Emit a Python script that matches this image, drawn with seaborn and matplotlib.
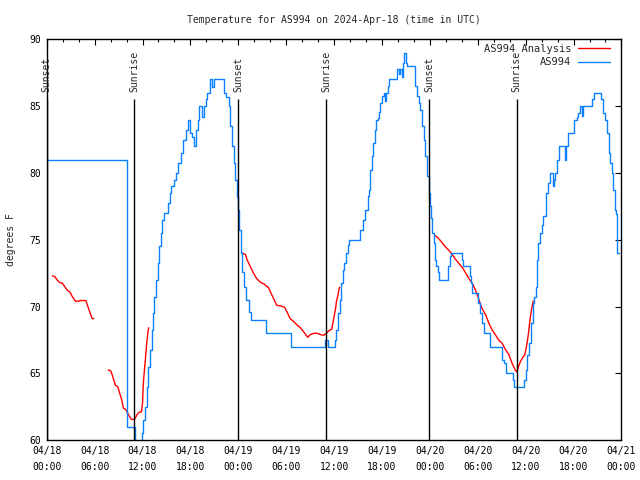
#!/usr/bin/python3
import pandas as pd
import numpy as np
import seaborn as sns
import matplotlib
matplotlib.use("Agg")
import matplotlib.pyplot as plt
import matplotlib.dates as mdates
from matplotlib.lines import Line2D

# hours after 2024-04-18 00:00 UTC, temperatures in degrees F
obs_hours = [0.0, 10.1, 11.05, 11.9, 12.1, 12.35, 12.55, 12.75, 12.98, 13.2, 13.3, 13.5, 13.7, 13.9,
             14.1, 14.3, 14.5, 14.7, 15.2, 15.4, 15.6, 15.9, 16.2, 16.4, 16.8, 17.1, 17.4, 17.7,
             17.9, 18.2, 18.5, 18.7, 18.9, 19.1, 19.5, 19.7, 19.9, 20.1, 20.4, 20.5, 20.7, 20.9,
             22.2, 22.5, 22.8, 23.0, 23.25, 23.45, 23.6, 23.9, 24.0, 24.1, 24.3, 24.5, 24.7, 25.0,
             25.3, 25.6, 27.5, 30.6, 34.85, 35.3, 36.1, 36.3, 36.5, 36.7, 36.9, 37.1, 37.3, 37.5,
             37.7, 37.9, 39.2, 39.6, 39.9, 40.2, 40.4, 40.5, 40.8, 40.9, 41.1, 41.3, 41.5, 41.6,
             41.8, 42.0, 42.2, 42.4, 42.5, 42.7, 42.9, 43.9, 44.1, 44.3, 44.5, 44.6, 44.7, 44.95,
             45.1, 46.2, 46.4, 46.6, 46.8, 47.0, 47.25, 47.45, 47.7, 47.9, 48.0, 48.1, 48.3, 48.5,
             48.6, 48.8, 49.0, 49.2, 50.3, 50.5, 50.7, 52.0, 52.1, 53.0, 53.1, 53.3, 54.0, 54.3,
             54.5, 54.8, 55.5, 57.0, 57.3, 57.5, 58.4, 58.5, 59.85, 60.0, 60.2, 60.4, 60.7, 60.9,
             61.1, 61.3, 61.4, 61.6, 61.8, 62.0, 62.2, 62.5, 62.6, 62.8, 63.0, 63.4, 63.6, 63.7,
             63.9, 64.2, 64.9, 65.0, 65.3, 66.1, 66.4, 66.6, 66.8, 67.0, 67.2, 68.3, 68.6, 69.5,
             69.7, 70.0, 70.2, 70.4, 70.6, 70.8, 71.0, 71.2, 71.3, 71.45, 71.5, 71.65]
obs_temp = [81, 61, 59, 60.5, 61.5, 62.5, 64, 65.5, 66.75, 68.25, 69.5, 70.75, 72, 73.25,
            74.5, 75.5, 76.5, 77, 77.75, 78.5, 79, 79.5, 80, 80.75, 81.5, 82.5, 83.25, 84,
            83, 82.7, 82, 83.2, 84, 85, 84.2, 85, 85.5, 86, 86.5, 87, 86.4, 87,
            86, 85.7, 85, 83.5, 82, 80.75, 79.5, 78.2, 77.2, 75.75, 74, 72.6, 71.5, 70.5,
            69.6, 69, 68, 67, 67.5, 67, 67.5, 68.25, 69.5, 70.5, 71.75, 72.75, 73.25, 74,
            74.6, 75, 75.75, 76.5, 77.25, 78.25, 78.75, 80.25, 81.25, 82.25, 83.25, 84, 84.15, 84.6,
            85.25, 85.75, 86, 85.4, 86, 86.5, 87, 87.75, 87.4, 87.75, 87.15, 88.25, 89, 88.25,
            88, 86.5, 85.75, 85.25, 84.75, 83.5, 82.5, 81.25, 79.75, 78.5, 77.5, 76.6, 75.5, 74.75,
            73.5, 73, 72.6, 72, 73, 73.75, 74, 73.5, 73, 72.25, 71.75, 71, 70.25, 69.5,
            68.75, 68, 67, 66, 65.75, 65, 64.5, 64, 64.5, 65.25, 66.4, 67.25, 68.75, 70.25,
            70.75, 71.5, 73.5, 74.75, 75.5, 76.1, 76.75, 77.6, 78.5, 79.25, 80, 79, 79.5, 80,
            81, 82, 81, 82, 83, 84, 84.2, 84.5, 85, 84.25, 85, 85.5, 86, 85.5,
            84.5, 84, 83, 81.5, 80.75, 80, 78.75, 77.25, 76.9, 75.5, 74, 74]

ana1_hours = [0.7, 1.0, 1.3, 1.6, 1.96, 2.25, 2.6, 2.9, 3.2, 3.6, 4.0, 4.25, 4.9, 5.1, 5.3, 5.5, 5.7, 5.9]
ana1_temp = [72.3, 72.25, 72.0, 71.8, 71.75, 71.5, 71.2, 71.1, 70.75, 70.4, 70.4, 70.45, 70.45, 70.1,
             69.75, 69.4, 69.1, 69.1]
ana2_hours = [7.7, 8.0, 8.2, 8.4, 8.6, 8.9, 9.1, 9.4, 9.6, 9.9, 10.25, 10.6, 11.0, 11.3, 11.6, 11.85,
              12.0, 12.1, 12.35, 12.55, 12.75, 12.8]
ana2_temp = [65.25, 65.2, 64.9, 64.5, 64.1, 64.0, 63.6, 63.0, 62.4, 62.3, 61.9, 61.55, 61.55, 61.9,
             62.1, 62.1, 62.75, 64.25, 66.0, 67.4, 68.4, 68.4]
ana3_hours = [24.5, 24.9, 25.1, 25.5, 25.9, 26.3, 26.8, 27.2, 27.8, 28.1, 28.5, 28.8, 29.3, 29.8, 30.1,
              30.5, 30.9, 31.4, 31.8, 32.2, 32.7, 33.0, 33.5, 33.9, 34.3, 34.7, 35.05, 35.35, 35.7,
              35.85, 36.0, 36.2, 36.3, 36.5, 36.65, 36.7]
ana3_temp = [74, 73.9, 73.5, 73, 72.5, 72.1, 71.8, 71.7, 71.4, 71, 70.5, 70.1, 70.05, 69.95, 69.6,
             69.1, 68.9, 68.6, 68.4, 68.1, 67.7, 67.9, 68, 68, 67.9, 67.85, 68, 68.2, 68.3,
             68.75, 69.25, 69.9, 70.4, 70.9, 71.4, 71.45]
ana4_hours = [48.7, 49.1, 49.5, 49.9, 50.4, 50.8, 51.2, 51.6, 52.1, 52.5, 52.9, 53.3, 53.7, 54.1, 54.5,
              54.97, 55.4, 55.8, 56.2, 56.6, 57.05, 57.5, 57.9, 58.3, 58.7, 58.9, 59.1, 59.35, 59.7,
              59.9, 60.1, 60.3, 60.45, 60.6, 60.8, 60.95]
ana4_temp = [75.3, 75.1, 74.8, 74.5, 74.2, 73.9, 73.55, 73.25, 72.9, 72.5, 72.1, 71.75, 71.25, 70.6,
             69.9, 69.4, 68.75, 68.25, 67.9, 67.5, 67.25, 66.75, 66.4, 65.75, 65.25, 65.1, 65.5,
             65.9, 66.25, 66.4, 67, 67.75, 68.5, 69.25, 70, 70.4]

sunset_hours = [0.0, 24.0, 47.9]
sunrise_hours = [10.97, 35.0, 58.9]

base = pd.Timestamp("2024-04-18 00:00")

def to_time(hours):
    return base + pd.to_timedelta(np.array(hours), unit="h")

obs = pd.DataFrame({"time": to_time(obs_hours), "temp": obs_temp})
segs = []
for i, (h, t) in enumerate([(ana1_hours, ana1_temp), (ana2_hours, ana2_temp),
                            (ana3_hours, ana3_temp), (ana4_hours, ana4_temp)]):
    segs.append(pd.DataFrame({"time": to_time(h), "temp": t, "seg": i}))
ana = pd.concat(segs, ignore_index=True)

sns.set_theme(style="white")
plt.rcParams["font.family"] = ["DejaVu Sans Mono", "DejaVu Sans"]
plt.rcParams["font.size"] = 7

red = "#ff0000"
blue = "#0a80ff"

fig = plt.figure(figsize=(6.4, 4.8), dpi=100)
ax = fig.add_axes([0.073, 0.083, 0.898, 0.835])

sns.lineplot(data=ana, x="time", y="temp", units="seg", estimator=None,
             color=red, linewidth=1.0, ax=ax, legend=False)
sns.lineplot(data=obs, x="time", y="temp", estimator=None, drawstyle="steps-post",
             color=blue, linewidth=1.0, ax=ax, legend=False)

for h in sunset_hours + sunrise_hours:
    ax.vlines(to_time([h])[0], 60, 85.5, color="black", linewidth=1.0, zorder=3)
for h in sunset_hours:
    ax.text(to_time([h])[0], 86.05, "Sunset", rotation=90, ha="center", va="bottom",
            fontsize=7, zorder=4)
for h in sunrise_hours:
    ax.text(to_time([h])[0], 86.05, "Sunrise", rotation=90, ha="center", va="bottom",
            fontsize=7, zorder=4)

ax.set_xlim(base, base + pd.Timedelta(hours=72))
ax.set_ylim(60, 90)
ax.set_yticks(range(60, 91, 5))
ax.xaxis.set_major_locator(mdates.HourLocator(byhour=[0, 6, 12, 18]))
ax.xaxis.set_minor_locator(mdates.HourLocator(interval=2))
ax.xaxis.set_major_formatter(mdates.DateFormatter("%m/%d\n%H:%M"))

ax.tick_params(which="both", direction="in", top=True, right=True, colors="black",
               labelsize=7, width=0.8)
ax.tick_params(which="major", length=4.5, pad=4)
ax.tick_params(which="minor", length=2.2)
for lab in ax.get_xticklabels():
    lab.set_linespacing(1.75)
for s in ax.spines.values():
    s.set_color("black")
    s.set_linewidth(1.0)

ax.set_xlabel("")
ax.set_ylabel("degrees F", fontsize=7, labelpad=10)
ax.set_title("Temperature for AS994 on 2024-Apr-18 (time in UTC)", fontsize=7, pad=12)

handles = [Line2D([], [], color=red, linewidth=1.0), Line2D([], [], color=blue, linewidth=1.0)]
ax.legend(handles, ["AS994 Analysis", "AS994"], loc="upper right", bbox_to_anchor=(0.9866, 1.0),
          frameon=False, markerfirst=False, handlelength=3.0, labelspacing=0.35,
          borderaxespad=0.0, handletextpad=0.7, fontsize=7.5)

fig.savefig("out.png", dpi=100)
